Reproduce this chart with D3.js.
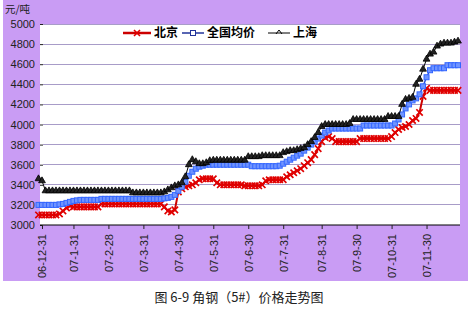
<!DOCTYPE html>
<html><head><meta charset="utf-8">
<script src="https://cdn.jsdelivr.net/npm/d3@7"></script>
<style>html,body{margin:0;padding:0;background:#fff;}svg{display:block;}</style>
</head><body>
<script>
const xTickIndex = [1,10,20,30,40,50,60,70,81,91,101,111];
const xTickLabels = ["06-12-31","07-1-31","07-2-28","07-3-31","07-4-30","07-5-31","07-6-30","07-7-31","07-8-31","07-9-30","07-10-31","07-11-30"];
const yTicks = [3000,3200,3400,3600,3800,4000,4200,4400,4600,4800,5000];
const seriesNames = ["北京","全国均价","上海"];

const beijing = [3100,3100,3100,3100,3100,3100,3110,3140,3170,3190,
 3180,3180,3180,3180,3180,3180,3180,3180,
 3210,3210,3210,3210,3210,3210,3210,3210,3210,3210,3210,3210,3210,3210,3210,3210,3210,3210,
 3180,3140,3130,3150,3330,3360,3380,3390,3400,3420,3450,
 3460,3460,3460,3460,3420,
 3400,3400,3400,3400,3400,3400,3400,
 3390,3390,3390,3390,3390,3400,3440,
 3450,3450,3450,3450,3450,
 3480,3500,3520,3540,3560,3590,3620,3650,3700,3760,3830,3870,3880,3860,
 3830,3830,3830,3830,3830,3830,3830,
 3860,3860,3860,3860,3860,3860,3860,3860,3860,
 3880,3920,3950,3970,3980,4000,4040,4060,4120,4280,4360,
 4340,4340,4340,4340,4340,4340,4340,4340,4340];

const national = [3200,3200,3200,3200,3200,3200,3205,3210,3220,3230,3240,3245,
 3250,3250,3250,3250,3250,3250,
 3260,3260,3260,3260,3260,3260,3260,3260,3260,3260,3260,3260,3260,3260,3260,3260,3260,3260,
 3265,3270,3280,3300,3340,3380,3430,3490,3530,3560,3580,3590,
 3600,3600,3600,3600,3600,3600,3600,3600,3600,3600,3600,3600,3600,
 3585,3585,3585,3585,3585,3585,3585,3585,
 3590,3610,3630,3650,3670,3690,3710,3740,3770,3800,3830,3860,3890,3920,3940,
 3960,3960,3960,3960,3960,3960,3960,3960,3960,
 3990,3990,3990,3990,3990,3990,3990,3990,3990,
 4010,4050,4100,4160,4200,4240,4260,4300,4380,4470,4540,
 4560,4560,4560,4560,4590,4590,4590,4590];

const shanghai = [3460,3440,
 3340,3340,3340,3340,3340,3340,3340,3340,3340,3340,3340,3340,3340,3340,3340,3340,3340,3340,3340,3340,3340,3340,3340,3340,3340,
 3320,3320,3320,3320,3320,3320,3320,3320,3320,
 3330,3350,3370,3390,3400,3420,3480,3600,3650,3630,3610,3610,3620,3640,
 3645,3645,3645,3645,3645,3645,3645,3645,3645,3645,
 3680,3680,3680,3680,3690,3690,3690,3690,3690,3690,
 3720,3730,3740,3740,3750,3760,3770,3800,3830,3870,3920,3980,
 4000,4000,4000,4000,4000,4000,4000,4010,
 4050,4050,4050,4050,4050,4050,4050,4050,4050,4050,
 4080,4080,4080,4080,
 4200,4250,4260,4270,4400,4450,4550,4650,4700,4720,4780,4800,4810,4810,4810,4820,4830];

const W = 476, H = 310;
const svg = d3.select("body").append("svg").attr("width", W).attr("height", H);

// background panel
svg.append("rect").attr("x",3).attr("y",0).attr("width",465).attr("height",281).attr("fill","#c99cf4");

const plot = {l:40, r:460, t:24, b:225};
svg.append("rect").attr("x",plot.l).attr("y",plot.t).attr("width",plot.r-plot.l).attr("height",plot.b-plot.t).attr("fill","#fff");

const x = d3.scaleLinear().domain([0, beijing.length-1]).range([38.5, 458]);
const y = d3.scaleLinear().domain([3000,5000]).range([plot.b, plot.t]);

// grid lines
svg.append("g").selectAll("line").data(yTicks.filter(v=>v>3000)).join("line")
  .attr("x1",plot.l+3).attr("x2",plot.r).attr("y1",d=>y(d)).attr("y2",d=>y(d))
  .attr("stroke","#a89cc8").attr("stroke-width",1).attr("shape-rendering","crispEdges");

// y axis
const yAxis = svg.append("g").attr("transform",`translate(${plot.l+3},0)`)
  .call(d3.axisLeft(y).tickValues(yTicks).tickSize(3).tickPadding(5).tickFormat(d3.format("d")));
yAxis.select(".domain").remove();
yAxis.selectAll("line").attr("stroke","#222");
yAxis.selectAll("text").attr("font-family","Liberation Sans, Arial, sans-serif").attr("font-size",11).attr("fill","#222");

svg.append("text").attr("x",5).attr("y",13).text("元/吨")
  .attr("font-family","Noto Sans CJK SC, sans-serif").attr("font-size",10.5).attr("fill","#222");

// x axis
const xAxis = svg.append("g").attr("transform",`translate(0,${plot.b})`)
  .call(d3.axisBottom(x).tickValues(xTickIndex).tickSize(4).tickFormat((d,i)=>xTickLabels[i]));
xAxis.select(".domain").attr("d",`M${plot.l},0H${plot.r}`).attr("stroke","#000");
xAxis.selectAll("line").attr("stroke","#222");
xAxis.selectAll("text")
  .attr("font-family","Liberation Sans, Arial, sans-serif").attr("font-size",11).attr("fill","#222")
  .attr("text-anchor","end").attr("dy","0.35em")
  .attr("transform","translate(0,9) rotate(-90)").attr("x",0).attr("y",0);

const line = d3.line().x((d,i)=>x(i)).y(d=>y(d));

const colors = {bj:"#e00000", nat:"#3366ff", sh:"#000000"};
const g = svg.append("g");

// Beijing
g.append("path").datum(beijing).attr("d",line).attr("fill","none").attr("stroke","#cc0000").attr("stroke-width",2);
g.append("g").selectAll("path").data(beijing).join("path")
  .attr("d",(d,i)=>{const cx=x(i),cy=y(d),s=3.2;return `M${cx-s},${cy-s}L${cx+s},${cy+s}M${cx-s},${cy+s}L${cx+s},${cy-s}`;})
  .attr("stroke",colors.bj).attr("stroke-width",1.7).attr("fill","none");

// National
g.append("path").datum(national).attr("d",line).attr("fill","none").attr("stroke","#2a4fd8").attr("stroke-width",1.5);
g.append("g").selectAll("rect").data(national).join("rect")
  .attr("x",(d,i)=>x(i)-2.5).attr("y",d=>y(d)-2.5).attr("width",5).attr("height",5)
  .attr("fill","#6f94ff").attr("stroke",colors.nat).attr("stroke-width",1);

// Shanghai
g.append("path").datum(shanghai).attr("d",line).attr("fill","none").attr("stroke","#000").attr("stroke-width",1);
const tri = d3.symbol().type(d3.symbolTriangle).size(20);
g.append("g").selectAll("path").data(shanghai).join("path")
  .attr("transform",(d,i)=>`translate(${x(i)},${y(d)})`).attr("d",tri)
  .attr("fill","#222").attr("stroke","#000").attr("stroke-width",0.8);

// legend
const lg = svg.append("g");
lg.append("rect").attr("x",118).attr("y",25).attr("width",212).attr("height",16).attr("fill","#fff");
const ly = 33;
// Beijing item
lg.append("line").attr("x1",123).attr("x2",151).attr("y1",ly).attr("y2",ly).attr("stroke","#cc0000").attr("stroke-width",2.5);
lg.append("path").attr("d",`M134,${ly-3}L140,${ly+3}M134,${ly+3}L140,${ly-3}`).attr("stroke",colors.bj).attr("stroke-width",1.6);
lg.append("text").attr("x",154).attr("y",ly).attr("dy","0.36em").text(seriesNames[0]);
// National item
lg.append("line").attr("x1",182).attr("x2",204).attr("y1",ly).attr("y2",ly).attr("stroke","#22339a").attr("stroke-width",1.5);
lg.append("rect").attr("x",190.5).attr("y",ly-2.5).attr("width",5).attr("height",5).attr("fill","#fff").attr("stroke","#22339a");
lg.append("text").attr("x",207).attr("y",ly).attr("dy","0.36em").text(seriesNames[1]);
// Shanghai item
lg.append("line").attr("x1",268).attr("x2",290).attr("y1",ly).attr("y2",ly).attr("stroke","#000").attr("stroke-width",1);
lg.append("path").attr("d",`M276,${ly+1}L279,${ly-3}L282,${ly+1}`).attr("stroke","#000").attr("fill","none");
lg.append("text").attr("x",293).attr("y",ly).attr("dy","0.36em").text(seriesNames[2]);
lg.selectAll("text").attr("font-family","Noto Sans CJK SC, sans-serif").attr("font-size",12).attr("font-weight","bold").attr("fill","#000");

// caption
svg.append("text").attr("x",239).attr("y",302).attr("text-anchor","middle")
  .attr("font-family","Noto Sans CJK SC, sans-serif").attr("font-size",13).attr("fill","#222")
  .text("图 6-9 角钢（5#）价格走势图");
</script>
</body></html>
